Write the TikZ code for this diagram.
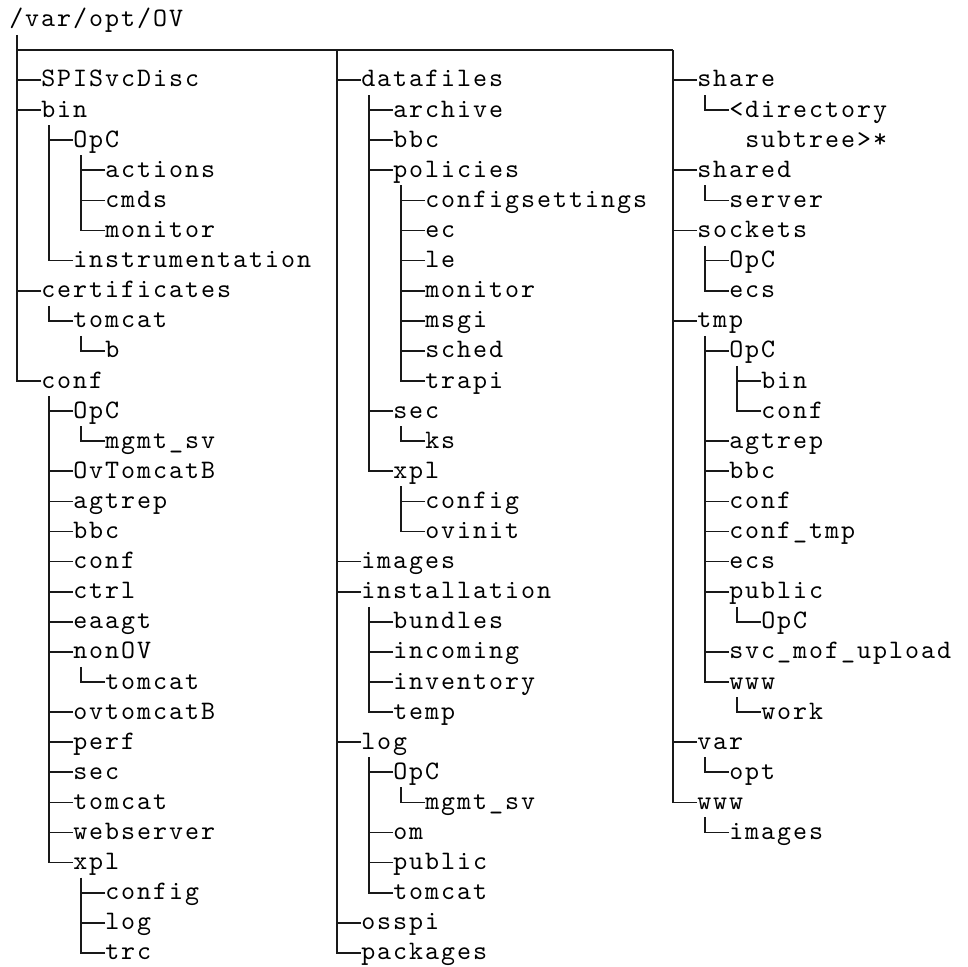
\documentclass[tikz,border=0pt]{standalone}
\usepackage{fontspec}
\newfontfamily\dirfont[LetterSpace=7.5]{lmmono10-regular.otf}
\usepackage{tikz}

\begin{document}
\begin{tikzpicture}[x=12pt, y=-22.575pt,
  dir/.style={anchor=west, inner sep=0pt, text height=14pt, text depth=3.5pt, font=\dirfont\fontsize{20pt}{22pt}\selectfont},
  tree/.style={line width=1.3pt, black!90},
]
  \useasboundingbox (-0.5625,-2.658) rectangle (59.9375,29.468);

  \node[dir] (root) at (0,-2) {/var/opt/OV};
  \coordinate (bus-l) at (0.5,-1);
  \coordinate (bus-m) at (20.5,-1);
  \coordinate (bus-r) at (41.5,-1);

  % left column
  \node[dir] (spi)       at (2,0)  {SPISvcDisc};
  \node[dir] (bin)       at (2,1)  {bin};
  \node[dir] (bin-opc)   at (4,2)  {OpC};
  \node[dir] (actions)   at (6,3)  {actions};
  \node[dir] (cmds)      at (6,4)  {cmds};
  \node[dir] (bin-mon)   at (6,5)  {monitor};
  \node[dir] (instr)     at (4,6)  {instrumentation};
  \node[dir] (cert)      at (2,7)  {certificates};
  \node[dir] (cert-tc)   at (4,8)  {tomcat};
  \node[dir] (cert-b)    at (6,9)  {b};
  \node[dir] (conf)      at (2,10) {conf};
  \node[dir] (conf-opc)  at (4,11) {OpC};
  \node[dir] (conf-mgmt) at (6,12) {mgmt\_sv};
  \node[dir] (ovtcb)     at (4,13) {OvTomcatB};
  \node[dir] (conf-agt)  at (4,14) {agtrep};
  \node[dir] (conf-bbc)  at (4,15) {bbc};
  \node[dir] (conf-conf) at (4,16) {conf};
  \node[dir] (ctrl)      at (4,17) {ctrl};
  \node[dir] (eaagt)     at (4,18) {eaagt};
  \node[dir] (nonov)     at (4,19) {nonOV};
  \node[dir] (nonov-tc)  at (6,20) {tomcat};
  \node[dir] (ovtcb2)    at (4,21) {ovtomcatB};
  \node[dir] (perf)      at (4,22) {perf};
  \node[dir] (conf-sec)  at (4,23) {sec};
  \node[dir] (conf-tc)   at (4,24) {tomcat};
  \node[dir] (websrv)    at (4,25) {webserver};
  \node[dir] (conf-xpl)  at (4,26) {xpl};
  \node[dir] (xpl-cfg)   at (6,27) {config};
  \node[dir] (xpl-log)   at (6,28) {log};
  \node[dir] (trc)       at (6,29) {trc};

  % middle column
  \node[dir] (datafiles) at (22,0)  {datafiles};
  \node[dir] (archive)   at (24,1)  {archive};
  \node[dir] (df-bbc)    at (24,2)  {bbc};
  \node[dir] (policies)  at (24,3)  {policies};
  \node[dir] (cfgset)    at (26,4)  {configsettings};
  \node[dir] (ec)        at (26,5)  {ec};
  \node[dir] (le)        at (26,6)  {le};
  \node[dir] (pol-mon)   at (26,7)  {monitor};
  \node[dir] (msgi)      at (26,8)  {msgi};
  \node[dir] (sched)     at (26,9)  {sched};
  \node[dir] (trapi)     at (26,10) {trapi};
  \node[dir] (df-sec)    at (24,11) {sec};
  \node[dir] (ks)        at (26,12) {ks};
  \node[dir] (df-xpl)    at (24,13) {xpl};
  \node[dir] (dfx-cfg)   at (26,14) {config};
  \node[dir] (ovinit)    at (26,15) {ovinit};
  \node[dir] (images)    at (22,16) {images};
  \node[dir] (install)   at (22,17) {installation};
  \node[dir] (bundles)   at (24,18) {bundles};
  \node[dir] (incoming)  at (24,19) {incoming};
  \node[dir] (inventory) at (24,20) {inventory};
  \node[dir] (temp)      at (24,21) {temp};
  \node[dir] (log)       at (22,22) {log};
  \node[dir] (log-opc)   at (24,23) {OpC};
  \node[dir] (log-mgmt)  at (26,24) {mgmt\_sv};
  \node[dir] (om)        at (24,25) {om};
  \node[dir] (log-pub)   at (24,26) {public};
  \node[dir] (log-tc)    at (24,27) {tomcat};
  \node[dir] (osspi)     at (22,28) {osspi};
  \node[dir] (packages)  at (22,29) {packages};

  % right column
  \node[dir] (share)     at (43,0)  {share};
  \node[dir] (dirtree)   at (45,1)  {<directory};
  \node[dir] (subtree)   at (46,2)  {subtree>*};
  \node[dir] (shared)    at (43,3)  {shared};
  \node[dir] (server)    at (45,4)  {server};
  \node[dir] (sockets)   at (43,5)  {sockets};
  \node[dir] (sock-opc)  at (45,6)  {OpC};
  \node[dir] (sock-ecs)  at (45,7)  {ecs};
  \node[dir] (tmp)       at (43,8)  {tmp};
  \node[dir] (tmp-opc)   at (45,9)  {OpC};
  \node[dir] (tmp-bin)   at (47,10) {bin};
  \node[dir] (tmp-cnf)   at (47,11) {conf};
  \node[dir] (tmp-agt)   at (45,12) {agtrep};
  \node[dir] (tmp-bbc)   at (45,13) {bbc};
  \node[dir] (tmp-conf)  at (45,14) {conf};
  \node[dir] (conftmp)   at (45,15) {conf\_tmp};
  \node[dir] (tmp-ecs)   at (45,16) {ecs};
  \node[dir] (tmp-pub)   at (45,17) {public};
  \node[dir] (pub-opc)   at (47,18) {OpC};
  \node[dir] (svcmof)    at (45,19) {svc\_mof\_upload};
  \node[dir] (tmp-www)   at (45,20) {www};
  \node[dir] (work)      at (47,21) {work};
  \node[dir] (var)       at (43,22) {var};
  \node[dir] (opt)       at (45,23) {opt};
  \node[dir] (www)       at (43,24) {www};
  \node[dir] (www-img)   at (45,25) {images};

  % trunks
  \draw[tree] ([shift={(0.5,0.5)}]root.west) |- (conf.west);
  \draw[tree] (bus-l) -- (bus-r);
  \draw[tree] (bus-m) |- (packages.west);
  \draw[tree] (bus-r) |- (www.west);

  % branches: parent / last child
  \foreach \p/\c in {bin/instr, bin-opc/bin-mon, cert/cert-tc, cert-tc/cert-b,
      conf/conf-xpl, conf-opc/conf-mgmt, nonov/nonov-tc, conf-xpl/trc,
      datafiles/df-xpl, policies/trapi, df-sec/ks, df-xpl/ovinit,
      install/temp, log/log-tc, log-opc/log-mgmt,
      share/dirtree, shared/server, sockets/sock-ecs, tmp/tmp-www,
      tmp-opc/tmp-cnf, tmp-pub/pub-opc, tmp-www/work, var/opt, www/www-img}
    \draw[tree] ([shift={(0.5,0.5)}]\p.west) |- (\c.west);

  % ticks
  \foreach \n in {spi, bin, bin-opc, actions, cmds, bin-mon, instr, cert, cert-tc,
      cert-b, conf, conf-opc, conf-mgmt, ovtcb, conf-agt, conf-bbc, conf-conf,
      ctrl, eaagt, nonov, nonov-tc, ovtcb2, perf, conf-sec, conf-tc, websrv,
      conf-xpl, xpl-cfg, xpl-log, trc,
      datafiles, archive, df-bbc, policies, cfgset, ec, le, pol-mon, msgi, sched,
      trapi, df-sec, ks, df-xpl, dfx-cfg, ovinit, images, install, bundles,
      incoming, inventory, temp, log, log-opc, log-mgmt, om, log-pub, log-tc,
      osspi, packages,
      share, dirtree, shared, server, sockets, sock-opc, sock-ecs, tmp, tmp-opc,
      tmp-bin, tmp-cnf, tmp-agt, tmp-bbc, tmp-conf, conftmp, tmp-ecs, tmp-pub,
      pub-opc, svcmof, tmp-www, work, var, opt, www, www-img}
    \draw[tree] (\n.west) -- ++(-1.5,0);
\end{tikzpicture}
\end{document}
